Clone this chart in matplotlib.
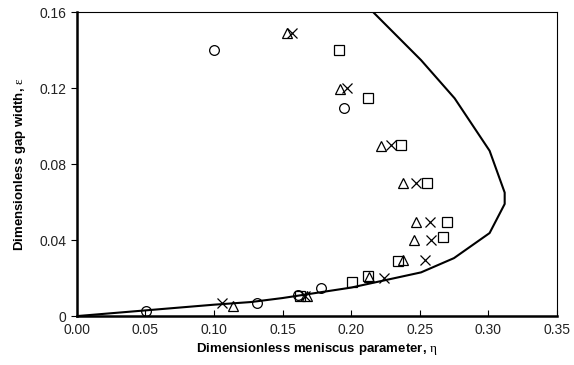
"""Gap width vs meniscus parameter chart."""

import matplotlib
matplotlib.use("Agg")
import matplotlib.pyplot as plt

# boundary curve
curve_eta = [0.0, 0.05, 0.10, 0.127, 0.15, 0.20, 0.251, 0.275, 0.301, 0.312,
             0.312, 0.301, 0.2755, 0.251, 0.216]
curve_eps = [0.0, 0.003, 0.006, 0.0074, 0.0095, 0.015, 0.023, 0.0305, 0.0437,
             0.059, 0.065, 0.087, 0.1146, 0.1347, 0.16]

# measured series
circle_eta = [0.0505, 0.100, 0.131, 0.161, 0.178, 0.195]
circle_eps = [0.0028, 0.140, 0.007, 0.011, 0.0147, 0.1096]

tri_eta = [0.114, 0.168, 0.2133, 0.2377, 0.2457, 0.2474, 0.238, 0.2218, 0.192, 0.1535]
tri_eps = [0.0054, 0.0107, 0.0207, 0.0295, 0.040, 0.0496, 0.070, 0.0896, 0.1195, 0.149]

x_eta = [0.106, 0.166, 0.2237, 0.254, 0.2585, 0.2577, 0.247, 0.229, 0.197, 0.157]
x_eps = [0.007, 0.0107, 0.0202, 0.0295, 0.040, 0.0496, 0.070, 0.090, 0.120, 0.149]

sq_eta = [0.163, 0.201, 0.212, 0.234, 0.267, 0.270, 0.255, 0.2365, 0.2125, 0.191]
sq_eps = [0.0107, 0.018, 0.021, 0.029, 0.0417, 0.0496, 0.070, 0.090, 0.115, 0.140]

x_ticks = [0.0, 0.05, 0.10, 0.15, 0.20, 0.25, 0.30, 0.35]
y_ticks = [0.0, 0.04, 0.08, 0.12, 0.16]
y_labels = ["0", "0.04", "0.08", "0.12", "0.16"]

plt.rcParams["font.family"] = ["Liberation Sans", "DejaVu Sans"]
# upright serif greek letters in the axis labels
plt.rcParams["mathtext.fontset"] = "custom"
plt.rcParams["mathtext.it"] = "Liberation Serif"
plt.rcParams["mathtext.rm"] = "Liberation Serif"

fig = plt.figure(figsize=(5.74, 3.65), dpi=100)
ax = fig.add_axes([0.134, 0.134, 0.836, 0.833])

ax.plot(curve_eta, curve_eps, color="black", lw=1.5, zorder=2)
mk = dict(linestyle="none", markerfacecolor="none", markeredgecolor="black",
          markeredgewidth=0.9, zorder=3)
ax.plot(circle_eta, circle_eps, marker="o", markersize=7, **mk)
ax.plot(tri_eta, tri_eps, marker="^", markersize=7, **mk)
ax.plot(x_eta, x_eps, marker="x", markersize=7, **mk)
ax.plot(sq_eta, sq_eps, marker="s", markersize=7, **mk)

ax.set_xlim(0, 0.35)
ax.set_ylim(0, 0.16)
ax.set_xticks(x_ticks)
ax.set_xticklabels([f"{t:.2f}" for t in x_ticks])
ax.set_yticks(y_ticks)
ax.set_yticklabels(y_labels)
ax.tick_params(axis="x", direction="in", length=4, labelsize=10, pad=5)
ax.tick_params(axis="y", direction="out", length=4, labelsize=10)
for t in ax.get_xticklabels() + ax.get_yticklabels():
    t.set_color("#222222")

for side in ("left", "bottom"):
    ax.spines[side].set_linewidth(1.8)
for side in ("top", "right"):
    ax.spines[side].set_linewidth(0.8)

ax.set_xlabel(r"Dimensionless meniscus parameter, $\eta$", fontsize=9.5,
              fontweight="bold", labelpad=3)
ax.set_ylabel(r"Dimensionless gap width, $\varepsilon$", fontsize=9.5,
              fontweight="bold", labelpad=8)

fig.savefig("out.png", dpi=100)
